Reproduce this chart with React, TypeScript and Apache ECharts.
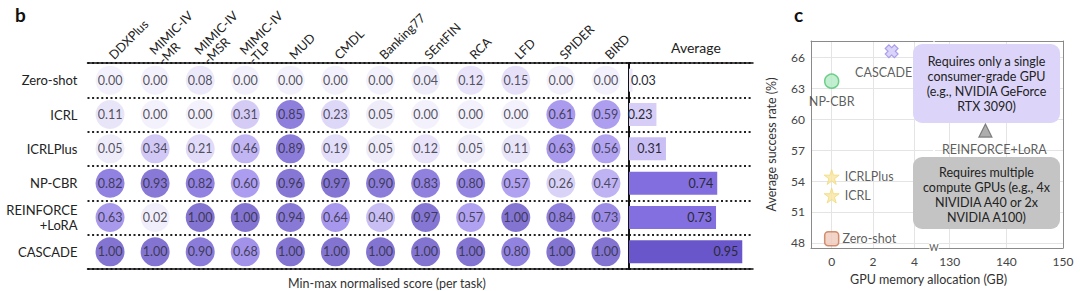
import React, { useEffect, useRef } from "react";
import * as echarts from "echarts";

// ---------- Panel b data ----------
const tasks = [
  "DDXPlus",
  "MIMIC-IV\n-MR",
  "MIMIC-IV\n-MSR",
  "MIMIC-IV\n-TLP",
  "MUD",
  "CMDL",
  "Banking77",
  "SEntFIN",
  "RCA",
  "LFD",
  "SPIDER",
  "BIRD",
];
const methods = ["Zero-shot", "ICRL", "ICRLPlus", "NP-CBR", "REINFORCE\n+LoRA", "CASCADE"];
const zeroShot = [0.0, 0.0, 0.08, 0.0, 0.0, 0.0, 0.0, 0.04, 0.12, 0.15, 0.0, 0.0];
const icrl = [0.11, 0.0, 0.0, 0.31, 0.85, 0.23, 0.05, 0.0, 0.0, 0.0, 0.61, 0.59];
const icrlPlus = [0.05, 0.34, 0.21, 0.46, 0.89, 0.19, 0.05, 0.12, 0.05, 0.11, 0.63, 0.56];
const npCbr = [0.82, 0.93, 0.82, 0.6, 0.96, 0.97, 0.9, 0.83, 0.8, 0.57, 0.26, 0.47];
const reinforceLora = [0.63, 0.02, 1.0, 1.0, 0.94, 0.64, 0.4, 0.97, 0.57, 1.0, 0.84, 0.73];
const cascade = [1.0, 1.0, 0.9, 0.68, 1.0, 1.0, 1.0, 1.0, 1.0, 0.8, 1.0, 1.0];
const averages = [0.03, 0.23, 0.31, 0.74, 0.73, 0.95];

// ---------- Panel c data ----------
const cMethods = ["Zero-shot", "ICRL", "ICRLPlus", "NP-CBR", "CASCADE", "REINFORCE+LoRA"];
const gpuMemory = [0, 0, 0, 0, 2.9, 136.3];
const successRate = [48.4, 52.6, 54.4, 63.7, 66.6, 58.9];
const yTicks = [48, 51, 54, 57, 60, 63, 66];
const xTicksLeft = [0, 2, 4];
const xTicksRight = [130, 140, 150];

const FONT = "Lato, 'Noto Sans', sans-serif";
const palette = ["#f0edfa", "#dad3f7", "#bcaff2", "#9884ec", "#7864da", "#6451c6"];

const markerStyles: Record<string, any> = {
  "Zero-shot": {
    symbol: "roundRect",
    symbolSize: 14,
    itemStyle: { color: "#efc9bb", borderColor: "#c8764f", borderWidth: 1.5 },
    label: { position: "right", distance: 3 },
  },
  ICRL: {
    symbol: "path://M50,0 L61,35 L98,35 L68,57 L79,92 L50,71 L21,92 L32,57 L2,35 L39,35 Z",
    symbolSize: 15,
    itemStyle: { color: "#f7e6a0", borderColor: "#f1d978", borderWidth: 1 },
    label: { position: "right", distance: 5 },
  },
  ICRLPlus: {
    symbol: "path://M50,0 L61,35 L98,35 L68,57 L79,92 L50,71 L21,92 L32,57 L2,35 L39,35 Z",
    symbolSize: 15,
    itemStyle: { color: "#f7e6a0", borderColor: "#f1d978", borderWidth: 1 },
    label: { position: "right", distance: 5 },
  },
  "NP-CBR": {
    symbol: "circle",
    symbolSize: 14,
    itemStyle: { color: "#b3ebc3", borderColor: "#4fc472", borderWidth: 1.5 },
    label: { position: "bottom", distance: 6 },
  },
  CASCADE: {
    symbol: "path://M3,0 H7 V3 H10 V7 H7 V10 H3 V7 H0 V3 H3 Z",
    symbolRotate: 45,
    symbolSize: 13,
    itemStyle: { color: "#d2c9f7", borderColor: "#9d8ce8", borderWidth: 1.2 },
    label: { position: "bottom", distance: 5, offset: [-8, 0] },
  },
  "REINFORCE+LoRA": {
    symbol: "triangle",
    symbolSize: 13,
    itemStyle: { color: "#9a9a9a", borderColor: "#666", borderWidth: 1.2 },
    label: { position: "bottom", distance: 5, offset: [9, 0] },
  },
};

export default function App() {
  const ref = useRef<HTMLDivElement>(null);

  useEffect(() => {
    document.body.style.margin = "0";
    if (!ref.current) return;
    const chart = echarts.init(ref.current, null, { renderer: "svg" });

    const rows = [zeroShot, icrl, icrlPlus, npCbr, reinforceLora, cascade];
    const bubbleData: any[] = [];
    rows.forEach((row, r) => row.forEach((v, c) => bubbleData.push([c, r, v])));

    const barData = averages.map((v, i) => ({
      value: [v, i],
      label:
        v < 0.1
          ? { position: "insideLeft", distance: 2 }
          : { position: "insideRight", distance: 4 },
    }));

    const leftPts: any[] = [];
    const rightPts: any[] = [];
    cMethods.forEach((m, i) => {
      const st = markerStyles[m];
      const item = {
        name: m,
        value: [gpuMemory[i], successRate[i]],
        symbol: st.symbol,
        symbolSize: st.symbolSize,
        symbolRotate: st.symbolRotate || 0,
        itemStyle: st.itemStyle,
        label: { show: true, formatter: "{b}", ...st.label },
      };
      if (gpuMemory[i] < 100) leftPts.push(item);
      else rightPts.push(item);
    });

    const dotted = { show: true, lineStyle: { color: "#222", width: 2, type: [2, 2.6] } };
    const hidden = { show: false };
    const blackLine = { show: true, onZero: false, lineStyle: { color: "#111", width: 1.5 } };
    const grayLine = { show: true, onZero: false, lineStyle: { color: "#8a8a8a", width: 1 } };
    const lightSplit = (vals: number[]) => ({
      show: true,
      customValues: vals,
      lineStyle: { color: "#e4e4e4", width: 1 },
    });

    const baseGraphics: any[] = [
      {
        type: "rect",
        shape: { x: 913, y: 44, width: 147, height: 79, r: 9 },
        style: { fill: "#dcd5f9" },
        z: 10,
      },
      {
        type: "text",
        x: 986.5,
        y: 84,
        style: {
          text: "Requires only a single\nconsumer-grade GPU\n(e.g., NVIDIA GeForce\nRTX 3090)",
          align: "center",
          verticalAlign: "middle",
          textAlign: "center",
          textVerticalAlign: "middle",
          lineHeight: 15,
          font: `12.5px ${FONT}`,
          fill: "#222",
        },
        z: 11,
      },
      {
        type: "rect",
        shape: { x: 913, y: 157, width: 147, height: 72, r: 9 },
        style: { fill: "#c4c4c4" },
        z: 10,
      },
      {
        type: "text",
        x: 986.5,
        y: 195,
        style: {
          text: "Requires multiple\ncompute GPUs (e.g., 4x\nNIVIDIA A40 or 2x\nNVIDIA A100)",
          align: "center",
          verticalAlign: "middle",
          textAlign: "center",
          textVerticalAlign: "middle",
          lineHeight: 15,
          font: `12.5px ${FONT}`,
          fill: "#222",
        },
        z: 11,
      },
      {
        type: "text",
        x: 934,
        y: 247,
        style: {
          text: "W",
          align: "center",
          verticalAlign: "middle",
          textAlign: "center",
          textVerticalAlign: "middle",
          font: `9px ${FONT}`,
          fill: "#555",
          backgroundColor: "#fff",
        },
        z: 11,
      },
    ];

    const option: any = {
      animation: false,
      textStyle: { fontFamily: FONT },
      title: [
        { text: "b", left: 10, top: 0, textStyle: { fontFamily: FONT, fontSize: 19, fontWeight: "bold", color: "#111" } },
        { text: "c", left: 789, top: 0, textStyle: { fontFamily: FONT, fontSize: 19, fontWeight: "bold", color: "#111" } },
        { text: "Average", left: 666, top: 35, textStyle: { fontFamily: FONT, fontSize: 14, fontWeight: "normal", color: "#222" } },
        {
          text: "Min-max normalised score (per task)",
          left: 283,
          top: 272,
          textStyle: { fontFamily: FONT, fontSize: 12.5, fontWeight: "normal", color: "#333" },
        },
        {
          text: "GPU memory allocation (GB)",
          left: 845,
          top: 268,
          textStyle: { fontFamily: FONT, fontSize: 12.5, fontWeight: "normal", color: "#333" },
        },
      ],
      grid: [
        { left: 87.5, top: 63, width: 541, height: 206 },
        { left: 629, top: 63, width: 124, height: 206 },
        { left: 811, top: 41, width: 122, height: 207 },
        { left: 935, top: 41, width: 128, height: 207 },
      ],
      xAxis: [
        {
          gridIndex: 0,
          type: "category",
          data: tasks,
          position: "top",
          axisLine: blackLine,
          axisTick: hidden,
          axisLabel: hidden,
          splitLine: hidden,
        },
        {
          gridIndex: 0,
          type: "category",
          data: tasks,
          position: "bottom",
          axisLine: blackLine,
          axisTick: hidden,
          axisLabel: hidden,
          splitLine: hidden,
        },
        {
          gridIndex: 1,
          type: "value",
          min: 0,
          max: 1.04,
          position: "top",
          axisLine: blackLine,
          axisTick: hidden,
          axisLabel: hidden,
          splitLine: hidden,
        },
        {
          gridIndex: 1,
          type: "value",
          min: 0,
          max: 1.04,
          position: "bottom",
          axisLine: blackLine,
          axisTick: hidden,
          axisLabel: hidden,
          splitLine: hidden,
        },
        {
          gridIndex: 2,
          type: "value",
          min: -1,
          max: 4.9,
          position: "bottom",
          axisLine: grayLine,
          axisTick: { show: false, customValues: xTicksLeft },
          axisLabel: { customValues: xTicksLeft, fontSize: 12, color: "#444", margin: 7, fontFamily: FONT },
          splitLine: lightSplit(xTicksLeft),
        },
        {
          gridIndex: 2,
          type: "value",
          min: -1,
          max: 4.9,
          position: "top",
          axisLine: grayLine,
          axisTick: hidden,
          axisLabel: hidden,
          splitLine: hidden,
        },
        {
          gridIndex: 3,
          type: "value",
          min: 127.4,
          max: 150,
          position: "bottom",
          axisLine: grayLine,
          axisTick: { show: false, customValues: xTicksRight },
          axisLabel: { customValues: xTicksRight, fontSize: 12, color: "#444", margin: 7, fontFamily: FONT },
          splitLine: lightSplit(xTicksRight),
        },
        {
          gridIndex: 3,
          type: "value",
          min: 127.4,
          max: 150,
          position: "top",
          axisLine: grayLine,
          axisTick: hidden,
          axisLabel: hidden,
          splitLine: hidden,
        },
      ],
      yAxis: [
        {
          gridIndex: 0,
          type: "category",
          data: methods,
          inverse: true,
          axisLine: hidden,
          axisTick: hidden,
          axisLabel: { fontSize: 13, color: "#222", margin: 10, align: "right", lineHeight: 15, fontFamily: FONT },
          splitLine: dotted,
        },
        {
          gridIndex: 1,
          type: "category",
          data: methods,
          inverse: true,
          axisLine: { show: true, onZero: false, lineStyle: { color: "#111", width: 2 } },
          axisTick: hidden,
          axisLabel: hidden,
          splitLine: dotted,
        },
        {
          gridIndex: 2,
          type: "value",
          min: 47.5,
          max: 67.6,
          position: "left",
          axisLine: grayLine,
          axisTick: { show: false, customValues: yTicks },
          axisLabel: { customValues: yTicks, fontSize: 12, color: "#444", margin: 6, fontFamily: FONT },
          splitLine: lightSplit(yTicks),
          name: "Average success rate (%)",
          nameLocation: "middle",
          nameGap: 33,
          nameTextStyle: { fontSize: 12.5, color: "#333", fontFamily: FONT },
        },
        {
          gridIndex: 3,
          type: "value",
          min: 47.5,
          max: 67.6,
          position: "right",
          axisLine: grayLine,
          axisTick: { show: false, customValues: yTicks },
          axisLabel: hidden,
          splitLine: lightSplit(yTicks),
        },
      ],
      visualMap: [
        {
          type: "continuous",
          show: false,
          seriesIndex: 0,
          dimension: 2,
          min: 0,
          max: 1,
          inRange: { color: palette },
        },
        {
          type: "continuous",
          show: false,
          seriesIndex: 1,
          dimension: 0,
          min: 0,
          max: 1,
          inRange: { color: palette },
        },
      ],
      series: [
        {
          type: "scatter",
          xAxisIndex: 0,
          yAxisIndex: 0,
          data: bubbleData,
          symbol: "circle",
          symbolSize: 29,
          label: {
            show: true,
            position: "inside",
            formatter: (p: any) => p.value[2].toFixed(2),
            color: "#2a2a35",
            fontSize: 12.5,
            fontFamily: FONT,
          },
          z: 3,
        },
        {
          type: "bar",
          xAxisIndex: 2,
          yAxisIndex: 1,
          data: barData,
          barWidth: 23,
          encode: { x: 0, y: 1 },
          label: {
            show: true,
            formatter: (p: any) => p.value[0].toFixed(2),
            color: "#2a2a35",
            fontSize: 12.5,
            fontFamily: FONT,
          },
          z: 3,
        },
        {
          type: "scatter",
          xAxisIndex: 4,
          yAxisIndex: 2,
          data: leftPts,
          label: { show: true, color: "#333", fontSize: 12.5, fontFamily: FONT },
          z: 5,
        },
        {
          type: "scatter",
          xAxisIndex: 6,
          yAxisIndex: 3,
          data: rightPts,
          label: { show: true, color: "#333", fontSize: 12.5, fontFamily: FONT },
          z: 5,
        },
      ],
      graphic: baseGraphics,
    };

    chart.setOption(option);

    // Column headers, placed at the category axis positions, rotated 45°
    const headerGraphics = tasks.map((t, i) => {
      const px = chart.convertToPixel({ xAxisIndex: 0 }, i) as number;
      return {
        type: "text",
        x: px + 1,
        y: 57,
        rotation: Math.PI / 4,
        style: {
          text: t,
          align: "left",
          verticalAlign: "middle",
          textAlign: "left",
          textVerticalAlign: "middle",
          lineHeight: 13,
          font: `12.5px ${FONT}`,
          fill: "#222",
        },
        z: 11,
      };
    });
    chart.setOption({ graphic: [...baseGraphics, ...headerGraphics] });

    return () => chart.dispose();
  }, []);

  return <div ref={ref} style={{ width: 1080, height: 291 }} />;
}
